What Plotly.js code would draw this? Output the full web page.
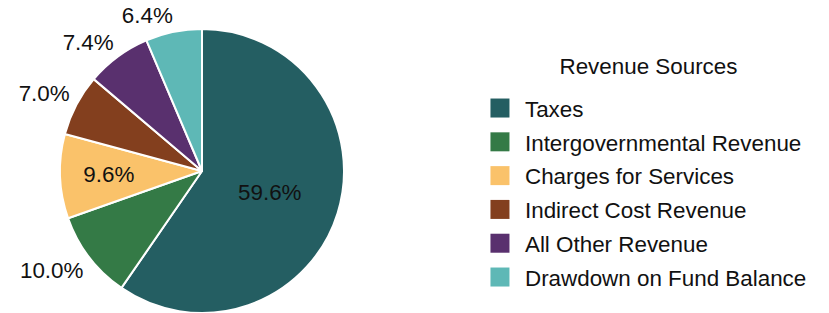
<!DOCTYPE html>
<html>
<head>
<meta charset="utf-8">
<script src="https://cdn.plot.ly/plotly-3.0.1.min.js"></script>
<style>html,body{margin:0;padding:0;background:#fff;}</style>
</head>
<body>
<div id="chart" style="width:829px;height:313px;"></div>
<script>
const categories = ["Taxes", "Intergovernmental Revenue", "Charges for Services", "Indirect Cost Revenue", "All Other Revenue", "Drawdown on Fund Balance"];
const shares = [59.6, 10.0, 9.6, 7.0, 7.4, 6.4];
const sliceColors = ["#245e62", "#347a46", "#fac26a", "#833f1e", "#59306e", "#5eb8b6"];
const labelPositions = ["inside", "outside", "inside", "outside", "outside", "outside"];

const FONT = '"Liberation Sans", Arial, sans-serif';
const FS = 22.4;

const trace = {
  type: 'pie',
  labels: categories,
  values: shares,
  sort: false,
  direction: 'clockwise',
  rotation: 0,
  marker: {colors: sliceColors, line: {color: '#ffffff', width: 2}},
  texttemplate: '%{value:.1f}%',
  textinfo: 'text',
  textposition: labelPositions,
  insidetextorientation: 'horizontal',
  textfont: {family: FONT, size: FS, color: '#111'},
  insidetextfont: {family: FONT, size: FS, color: '#111'},
  outsidetextfont: {family: FONT, size: FS, color: '#111'},
  domain: {x: [0, 404/829], y: [0, 1]},
  automargin: false,
  hoverinfo: 'label+percent'
};

const layout = {
  width: 829, height: 313,
  margin: {l: 0, r: 0, t: 29, b: 0, autoexpand: false},
  paper_bgcolor: '#ffffff',
  font: {family: FONT, size: FS, color: '#111'},
  showlegend: true,
  legend: {
    x: 0.585, xanchor: 'left',
    y: 0.944, yanchor: 'top',
    font: {family: FONT, size: FS, color: '#111'},
    title: {text: 'Revenue Sources', side: 'top center', font: {family: FONT, size: FS, color: '#111'}},
    traceorder: 'normal',
    bgcolor: 'rgba(0,0,0,0)'
  }
};

// legend spacing in the reference: gap from title to first entry and between entries
const TITLE_TO_FIRST = 41.5;
const ENTRY_GAP = 33.8;
// outside labels: nearest glyph corner sits this far beyond the rim
const LABEL_OFFSET = 8.5;
const ASCENT = 0.905, DIGIT_H = 0.716;

Plotly.newPlot('chart', [trace], layout, {displayModeBar: false, staticPlot: true}).then(function(gd){
  // ---- legend styling ----
  const leg = gd.querySelector('.legend');
  leg.querySelectorAll('[clip-path]').forEach(function(el){ el.removeAttribute('clip-path'); });
  leg.querySelectorAll('path.legendpie').forEach(function(p){
    p.setAttribute('d', 'M4.5,9.5H-14.5V-9.5H4.5Z');
    p.style.strokeWidth = '0px';
  });
  const title = leg.querySelector('.legendtitletext');
  const tb = title.getBoundingClientRect();
  const titleCenter = tb.top + tb.height / 2;
  leg.querySelectorAll('g.traces').forEach(function(g, i){
    const sw = g.querySelector('path.legendpie').getBoundingClientRect();
    const cur = sw.top + sw.height / 2;
    const want = titleCenter + TITLE_TO_FIRST + i * ENTRY_GAP;
    const m = /translate\(\s*([-\d.e]+)[ ,]+([-\d.e]+)\s*\)/.exec(g.getAttribute('transform') || '');
    const x = m ? parseFloat(m[1]) : 0;
    const y = m ? parseFloat(m[2]) : 0;
    g.setAttribute('transform', 'translate(' + x + ',' + (y + want - cur) + ')');
  });

  // ---- slice label placement ----
  const slices = Array.from(gd.querySelectorAll('.pielayer g.slice'));
  let L = Infinity, R = -Infinity, T = Infinity, B = -Infinity;
  slices.forEach(function(s){
    const r = s.querySelector('path.surface').getBoundingClientRect();
    L = Math.min(L, r.left); R = Math.max(R, r.right); T = Math.min(T, r.top); B = Math.max(B, r.bottom);
  });
  const cx = (L + R) / 2, cy = (T + B) / 2, rad = (R - L) / 2;
  const total = shares.reduce(function(a, b){ return a + b; }, 0);
  let cum = 0;
  slices.forEach(function(s, i){
    const span = shares[i] / total * 2 * Math.PI;
    const mid = (cum + span / 2);
    cum += span;
    const t = s.querySelector('text.slicetext');
    if(!t) return;
    const bb = t.getBoundingClientRect();
    const gl = {l: bb.left + 1, r: bb.right - 1, t: bb.top + (ASCENT - DIGIT_H) * FS, b: bb.top + ASCENT * FS};
    const sx = Math.sin(mid), sy = -Math.cos(mid);
    let dx = 0, dy = 0;
    if(labelPositions[i] === 'outside'){
      const px = cx + (rad + LABEL_OFFSET) * sx;
      const py = cy + (rad + LABEL_OFFSET) * sy;
      dx = sx < 0 ? px - gl.r : px - gl.l;
      dy = sy < 0 ? py - gl.b : py - gl.t;
    } else if(span < Math.PI){
      const a = span / 2;
      const d = 2 * rad * Math.sin(a) / (3 * a);
      const px = cx + d * sx, py = cy + d * sy;
      dx = px - (gl.l + gl.r) / 2;
      dy = py - (gl.t + gl.b) / 2;
    }
    if(dx || dy){
      t.setAttribute('transform', 'translate(' + dx + ',' + dy + ') ' + (t.getAttribute('transform') || ''));
    }
  });
});
</script>
</body>
</html>
